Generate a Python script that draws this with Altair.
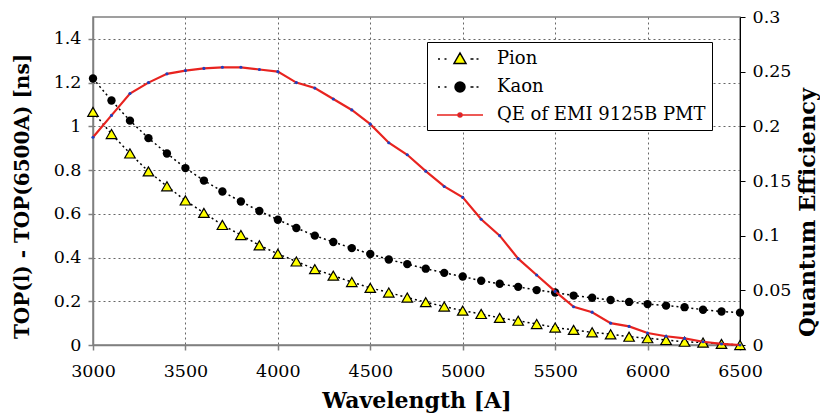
import altair as alt
import pandas as pd

wavelength = list(range(3000, 6501, 100))
pion = [1.066, 0.965, 0.876, 0.794, 0.726, 0.661, 0.604, 0.549, 0.503, 0.456,
        0.417, 0.382, 0.347, 0.317, 0.288, 0.261, 0.240, 0.217, 0.196, 0.176,
        0.157, 0.142, 0.124, 0.111, 0.096, 0.080, 0.069, 0.058, 0.049, 0.038,
        0.031, 0.023, 0.015, 0.011, 0.005, 0.0]
kaon = [1.219, 1.118, 1.026, 0.946, 0.876, 0.809, 0.752, 0.702, 0.656, 0.613,
        0.573, 0.535, 0.500, 0.471, 0.443, 0.416, 0.391, 0.370, 0.349, 0.330,
        0.313, 0.294, 0.280, 0.266, 0.251, 0.240, 0.226, 0.216, 0.206, 0.197,
        0.187, 0.180, 0.173, 0.161, 0.153, 0.148]
qe = [0.190, 0.210, 0.230, 0.240, 0.248, 0.251, 0.253, 0.254, 0.254, 0.252,
      0.250, 0.240, 0.235, 0.225, 0.215, 0.202, 0.185, 0.174, 0.159, 0.145,
      0.135, 0.115, 0.100, 0.079, 0.064, 0.049, 0.035, 0.030, 0.020, 0.017,
      0.011, 0.008, 0.006, 0.003, 0.001, 0.000]

x_ticks = [3000, 3500, 4000, 4500, 5000, 5500, 6000, 6500]
left_ticks = [0, 0.2, 0.4, 0.6, 0.8, 1, 1.2, 1.4]
right_ticks = [0, 0.05, 0.1, 0.15, 0.2, 0.25, 0.3]
series = ["Pion", "Kaon", "\u00a0QE of EMI 9125B PMT\u00a0"]

df = pd.DataFrame({"wavelength": wavelength, "pion": pion, "kaon": kaon, "qe": qe})
legend_df = pd.DataFrame({"series": series, "wavelength": [3000, 3000, 3000]})

FONT = "DejaVu Serif"
GRID = "#666666"
AXGRAY = "#808080"
YELLOW = "#ffff00"
RED = "#e8231f"
BLUE = "#1f3fbf"
LABEL_SIZE = 17.5

x_enc = alt.X(
    "wavelength:Q",
    scale=alt.Scale(domain=[3000, 6500], nice=False, zero=False),
    axis=alt.Axis(values=x_ticks, format="d", title="Wavelength [A]", grid=True,
                  gridColor=GRID, gridDash=[2, 3], gridWidth=1, labelFlush=False,
                  domainColor=AXGRAY, domainWidth=1.5, tickColor=AXGRAY, tickWidth=1.5,
                  tickSize=5, labelBaseline="alphabetic", labelPadding=26,
                  labelFontSize=LABEL_SIZE, titleFontSize=22,
                  titleBaseline="alphabetic", titleY=62),
)

left_axis = alt.Axis(values=left_ticks, format="~g", title="TOP(l) - TOP(6500A) [ns]",
                     grid=True, gridColor=GRID, gridDash=[2, 3], gridWidth=1, labelFlush=False,
                     domainColor=AXGRAY, domainWidth=1.5, tickColor=AXGRAY, tickWidth=1.5,
                     tickSize=5, labelPadding=7, labelFontSize=LABEL_SIZE, titleFontSize=20,
                     titleAngle=270, titleBaseline="alphabetic", titleX=-65, titleY=179)
left_scale = alt.Scale(domain=[0, 1.5], nice=False)

right_axis = alt.Axis(values=right_ticks, format="~g", title="Quantum Efficiency",
                      orient="right", grid=False, domainColor="black", domainWidth=1,
                      tickColor="black", tickWidth=1, tickSize=5, labelPadding=7,
                      labelFlush=False, labelFontSize=LABEL_SIZE, titleFontSize=22.5,
                      titleAngle=270, titleBaseline="alphabetic", titleX=74, titleY=195)
right_scale = alt.Scale(domain=[0, 0.3], nice=False)

base = alt.Chart(df).encode(x=x_enc)

pion_line = base.mark_line(color="black", strokeDash=[2, 3], strokeWidth=1.5).encode(
    y=alt.Y("pion:Q", scale=left_scale, axis=left_axis))
pion_pts = base.mark_point(shape="triangle-up", filled=True, fill=YELLOW, stroke="black",
                           strokeWidth=1.2, size=110, opacity=1).encode(
    y=alt.Y("pion:Q", scale=left_scale, axis=left_axis))
kaon_line = base.mark_line(color="black", strokeDash=[2, 3], strokeWidth=1.5).encode(
    y=alt.Y("kaon:Q", scale=left_scale, axis=left_axis))
kaon_pts = base.mark_circle(color="black", size=70, opacity=1).encode(
    y=alt.Y("kaon:Q", scale=left_scale, axis=left_axis))

left_layer = alt.layer(pion_line, pion_pts, kaon_line, kaon_pts)

qe_line = base.mark_line(color=RED, strokeWidth=2.2).encode(
    y=alt.Y("qe:Q", scale=right_scale, axis=right_axis))
qe_pts = base.mark_circle(color=BLUE, size=10, opacity=1).encode(
    y=alt.Y("qe:Q", scale=right_scale, axis=right_axis))
right_layer = alt.layer(qe_line, qe_pts)

dash = "M-2.2,0L-2.0,0M-1.55,0L-1.35,0M1.05,0L1.35,0M1.65,0L1.85,0"
pion_sym = dash + "M-0.6,0.45L0.6,0.45L0,-0.6Z"
kaon_sym = dash + "M-0.5,0A0.5,0.5,0,1,0,0.5,0A0.5,0.5,0,1,0,-0.5,0Z"
qe_sym = "M-2.3,0L2.3,0M-0.2,0A0.2,0.2,0,1,0,0.2,0A0.2,0.2,0,1,0,-0.2,0Z"

leg = alt.Legend(title=None)
legend_layer = alt.Chart(legend_df).mark_point(filled=True, opacity=1).encode(
    shape=alt.Shape("series:N", sort=series,
                    scale=alt.Scale(domain=series, range=[pion_sym, kaon_sym, qe_sym]),
                    legend=leg),
    fill=alt.Fill("series:N", sort=series,
                  scale=alt.Scale(domain=series, range=[YELLOW, "black", BLUE]), legend=leg),
    stroke=alt.Stroke("series:N", sort=series,
                      scale=alt.Scale(domain=series, range=["black", "black", RED]), legend=leg),
).transform_filter("datum.wavelength < 0")

chart = alt.layer(left_layer, right_layer, legend_layer).resolve_scale(
    y="independent"
).properties(
    width=647, height=328,
    autosize=alt.AutoSizeParams(type="none"),
    padding={"left": 93, "top": 17, "right": 80, "bottom": 72},
    background="white",
).configure(
    font=FONT,
).configure_axis(
    labelFont=FONT, titleFont=FONT,
    labelColor="black", titleColor="black", titleFontWeight="bold",
).configure_view(
    stroke=AXGRAY, strokeWidth=1.5,
).configure_legend(
    orient="none", legendX=334, legendY=25, strokeColor="black", fillColor="white",
    padding=6, labelFont=FONT, labelFontSize=18, labelColor="black",
    symbolSize=400, symbolStrokeWidth=1.5, symbolOffset=16, labelOffset=26,
    rowPadding=8, labelLimit=400,
)

chart.save("out.html", embed_options={"renderer": "svg", "actions": False})
